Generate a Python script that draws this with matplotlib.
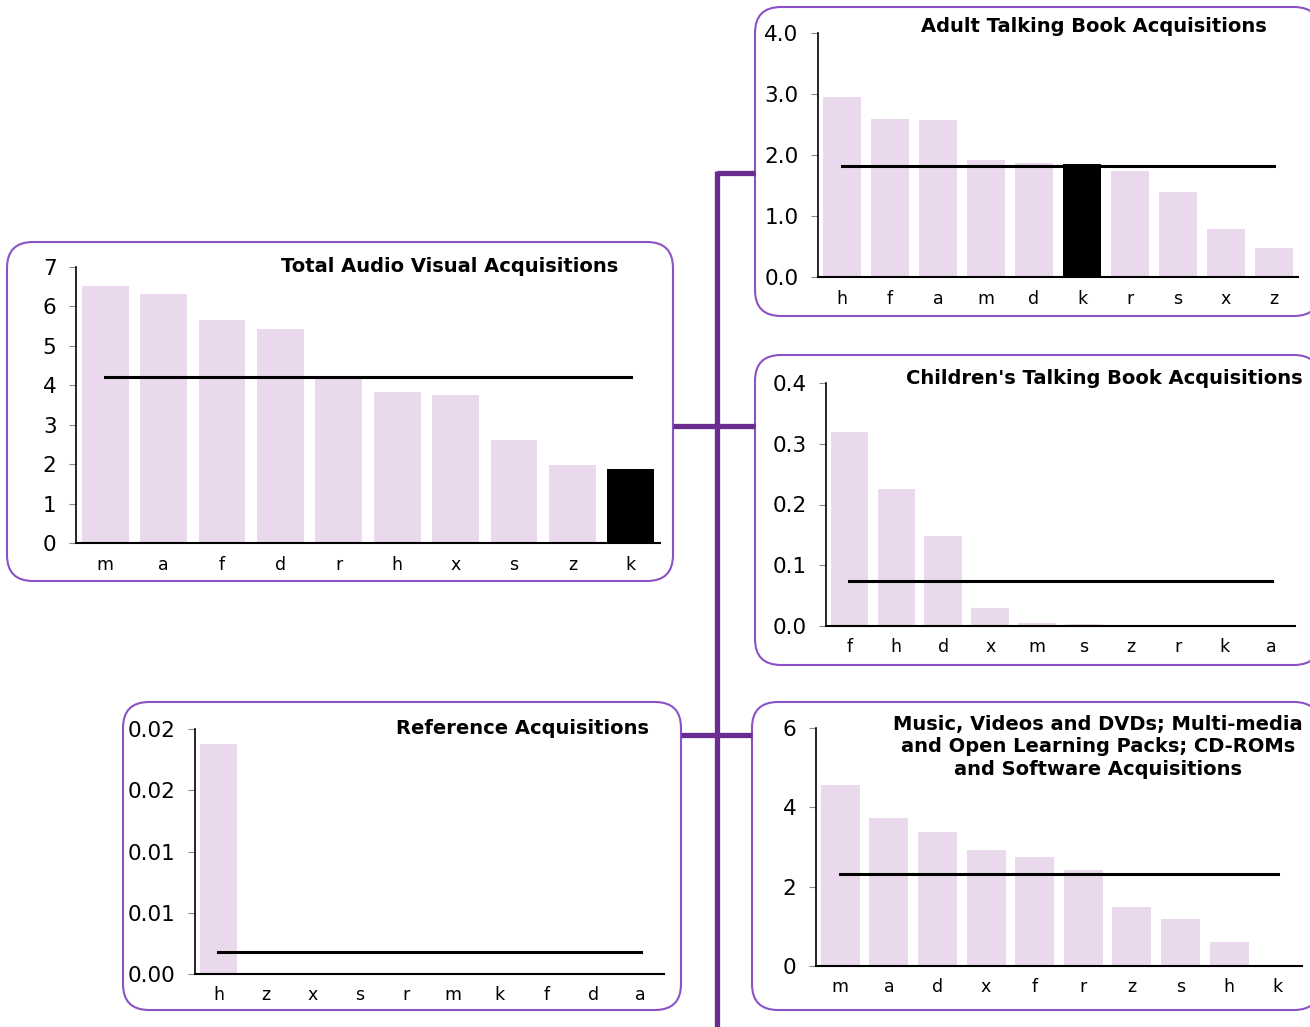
import matplotlib
matplotlib.use("Agg")
import matplotlib.pyplot as plt
from matplotlib.patches import FancyBboxPatch
from matplotlib.ticker import FormatStrFormatter

W, H = 1310, 1027

# ---- data ----
av_labels = ['m', 'a', 'f', 'd', 'r', 'h', 'x', 's', 'z', 'k']
av_values = [6.52, 6.31, 5.66, 5.43, 4.20, 3.83, 3.75, 2.61, 1.98, 1.88]
av_mean = 4.2

adult_labels = ['h', 'f', 'a', 'm', 'd', 'k', 'r', 's', 'x', 'z']
adult_values = [2.95, 2.59, 2.57, 1.92, 1.87, 1.85, 1.74, 1.39, 0.79, 0.48]
adult_mean = 1.82

child_labels = ['f', 'h', 'd', 'x', 'm', 's', 'z', 'r', 'k', 'a']
child_values = [0.319, 0.225, 0.148, 0.030, 0.005, 0.003, 0, 0, 0, 0]
child_mean = 0.074

ref_labels = ['h', 'z', 'x', 's', 'r', 'm', 'k', 'f', 'd', 'a']
ref_values = [0.0188, 0, 0, 0, 0, 0, 0, 0, 0, 0]
ref_mean = 0.0018
# the source rounds half up, so 0.015 -> 0.02 and 0.005 -> 0.01
ref_ticklabels = ['0.00', '0.01', '0.01', '0.02', '0.02']

music_labels = ['m', 'a', 'd', 'x', 'f', 'r', 'z', 's', 'h', 'k']
music_values = [4.56, 3.73, 3.38, 2.92, 2.75, 2.42, 1.49, 1.18, 0.60, 0]
music_mean = 2.31

highlight = 'k'

bar_color = '#ead9ec'
box_color = '#8c52c4'
link_color = '#6a2c91'

fig = plt.figure(figsize=(W / 100, H / 100), dpi=100)

# background layer in pixel units for boxes and connectors
bg = fig.add_axes([0, 0, 1, 1], zorder=0)
bg.set_xlim(0, W)
bg.set_ylim(H, 0)
bg.axis('off')

boxes = [(7, 242, 673, 581), (755, 7, 1320, 316), (755, 355, 1320, 665),
         (123, 702, 681, 1010), (752, 702, 1320, 1010)]
for x0, y0, x1, y1 in boxes:
    bg.add_patch(FancyBboxPatch((x0, y0), x1 - x0, y1 - y0,
                                boxstyle='round,pad=0,rounding_size=26',
                                fc='white', ec=box_color, lw=1.5))

bg.plot([717, 717], [171, H], color=link_color, lw=3.8, solid_capstyle='butt')
bg.plot([717, 755], [173, 173], color=link_color, lw=3.8, solid_capstyle='butt')
bg.plot([673, 755], [426, 426], color=link_color, lw=3.8, solid_capstyle='butt')
bg.plot([681, 752], [735, 735], color=link_color, lw=3.8, solid_capstyle='butt')


def panel(px, labels, values, mean, ymax, yticks, fmt, title, tx, ty):
    x0, y0, x1, y1 = px
    ax = fig.add_axes([x0 / W, 1 - y1 / H, (x1 - x0) / W, (y1 - y0) / H], zorder=2)
    ax.patch.set_alpha(0)
    colors = ['black' if l == highlight and v > 0 else bar_color
              for l, v in zip(labels, values)]
    ax.bar(range(len(labels)), values, width=0.8, color=colors)
    ax.plot([0, len(labels) - 1], [mean, mean], color='black', lw=2.2)
    ax.set_xlim(-0.5, len(labels) - 0.5)
    ax.set_ylim(0, ymax)
    ax.set_yticks(yticks)
    if isinstance(fmt, list):
        ax.set_yticklabels(fmt)
    else:
        ax.yaxis.set_major_formatter(FormatStrFormatter(fmt))
    ax.set_xticks(range(len(labels)))
    ax.set_xticklabels(labels)
    ax.spines['top'].set_visible(False)
    ax.spines['right'].set_visible(False)
    ax.spines['left'].set_linewidth(1.2)
    ax.spines['bottom'].set_linewidth(1.5)
    ax.tick_params(axis='y', length=5, color='#888888', labelsize=15.5, pad=9)
    ax.tick_params(axis='x', length=0, labelsize=12.5, pad=9)
    fig.text(tx / W, 1 - ty / H, title, ha='center', va='center',
             fontsize=14, fontweight='bold', linespacing=1.25)
    return ax


panel((76, 267, 660, 543), av_labels, av_values, av_mean, 7, range(0, 8), '%d',
      'Total Audio Visual Acquisitions', 450, 266)
panel((818, 33, 1298, 277), adult_labels, adult_values, adult_mean, 4.0,
      [0, 1, 2, 3, 4], '%.1f', 'Adult Talking Book Acquisitions', 1094, 27)
panel((826, 383, 1295, 626), child_labels, child_values, child_mean, 0.4,
      [0, 0.1, 0.2, 0.3, 0.4], '%.1f', "Children's Talking Book Acquisitions", 1104, 379)
panel((195, 729, 664, 974), ref_labels, ref_values, ref_mean, 0.02,
      [0, 0.005, 0.01, 0.015, 0.02], ref_ticklabels, 'Reference Acquisitions', 522, 728)
panel((816, 728, 1302, 966), music_labels, music_values, music_mean, 6,
      [0, 2, 4, 6], '%d',
      'Music, Videos and DVDs; Multi-media\nand Open Learning Packs; CD-ROMs\nand Software Acquisitions',
      1098, 747)

fig.savefig('out.png', dpi=100)
